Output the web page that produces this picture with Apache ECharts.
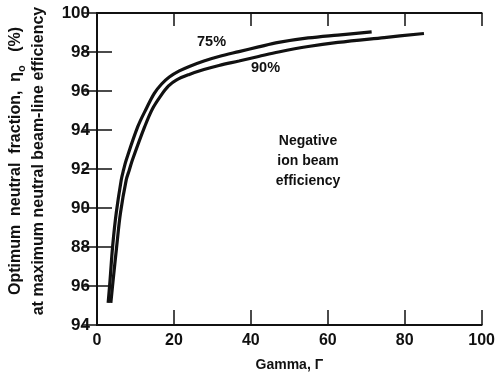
<!DOCTYPE html>
<html>
<head>
<meta charset="utf-8">
<script src="https://cdn.jsdelivr.net/npm/echarts@6/dist/echarts.min.js"></script>
<style>html,body{margin:0;padding:0;background:#fff;}#c{width:498px;height:377px;}</style>
</head>
<body>
<div id="c"></div>
<script>
// Data
const gamma75 = [2.9, 3.4, 4.05, 5.0, 6.3, 6.9, 7.6, 10.6, 12.9, 14.9, 16.8, 18.8, 21.4, 24.0, 27.8, 31.7, 36.9, 42.0, 47.2, 54.9, 62.6, 71.4];
const eta75   = [85.13, 86.31, 88.0, 89.74, 91.44, 91.95, 92.46, 94.17, 95.13, 95.88, 96.36, 96.72, 97.03, 97.26, 97.54, 97.77, 98.02, 98.26, 98.49, 98.72, 98.87, 99.03];
const gamma90 = [3.6, 4.2, 5.1, 6.1, 7.6, 8.4, 9.2, 12.4, 14.4, 16.7, 18.6, 20.6, 24.0, 27.8, 31.7, 36.9, 42.0, 47.2, 54.9, 62.6, 74.7, 85.0];
const eta90   = [85.13, 86.31, 88.0, 89.74, 91.44, 91.95, 92.46, 94.17, 95.08, 95.79, 96.26, 96.56, 96.85, 97.10, 97.31, 97.54, 97.77, 98.0, 98.28, 98.49, 98.74, 98.95];
const seriesNames = ['75%', '90%'];
const xTicks = [0, 20, 40, 60, 80, 100];
const yTickValues = [84, 86, 88, 90, 92, 94, 96, 98, 100];
const yTickLabels = ['94', '96', '88', '90', '92', '94', '96', '98', '100'];

const FONT = "'Liberation Sans', Arial, sans-serif";
const INK = '#111';

const chart = echarts.init(document.getElementById('c'), null, {renderer: 'canvas'});
const pairs = (xs, ys) => xs.map((x, i) => [x, ys[i]]);

const axisBase = {
  type: 'value',
  axisLine: {show: true, lineStyle: {color: INK, width: 2}},
  axisTick: {show: true, inside: true, length: 15, lineStyle: {color: INK, width: 1.5}},
  splitLine: {show: false}
};

chart.setOption({
  animation: false,
  backgroundColor: '#fff',
  grid: {left: 97, right: 13, top: 13, bottom: 52, containLabel: false},
  xAxis: [
    Object.assign({}, axisBase, {
      min: 0, max: 100, interval: 20, position: 'bottom',
      axisLabel: {show: true, margin: 8, color: INK, fontFamily: FONT, fontWeight: 'bold', fontSize: 16,
        formatter: v => xTicks.includes(v) ? String(v) : ''},
      name: 'Gamma, Γ', nameLocation: 'middle', nameGap: 33,
      nameTextStyle: {color: INK, fontFamily: FONT, fontWeight: 'bold', fontSize: 14}
    }),
    Object.assign({}, axisBase, {
      min: 0, max: 100, interval: 20, position: 'top',
      axisTick: {show: true, inside: true, length: 13, lineStyle: {color: INK, width: 1.5}},
      axisLabel: {show: false}
    })
  ],
  yAxis: [
    Object.assign({}, axisBase, {
      min: 84, max: 100, interval: 2, position: 'left',
      axisLabel: {show: true, margin: 7, color: INK, fontFamily: FONT, fontWeight: 'bold', fontSize: 17,
        formatter: v => { const i = yTickValues.indexOf(v); return i >= 0 ? yTickLabels[i] : ''; }}
    }),
    Object.assign({}, axisBase, {
      min: 84, max: 100, interval: 2, position: 'right',
      axisLabel: {show: false}
    })
  ],
  series: [
    {
      name: seriesNames[0], type: 'line', data: pairs(gamma75, eta75),
      smooth: 0.35, showSymbol: false, symbol: 'none',
      lineStyle: {color: INK, width: 3.2}
    },
    {
      name: seriesNames[1], type: 'line', data: pairs(gamma90, eta90),
      smooth: 0.35, showSymbol: false, symbol: 'none',
      lineStyle: {color: INK, width: 3.2}
    }
  ],
  graphic: [
    {type: 'text', left: 197, top: 34, style: {text: seriesNames[0], fill: INK, font: 'bold 14.5px ' + FONT}},
    {type: 'text', left: 251, top: 60, style: {text: seriesNames[1], fill: INK, font: 'bold 14.5px ' + FONT}},
    {type: 'text', x: 308, y: 131, style: {text: 'Negative\nion beam\nefficiency', fill: INK,
      font: 'bold 14px ' + FONT, align: 'center', verticalAlign: 'top', lineHeight: 20}},
    {type: 'text', x: 27, y: 161, rotation: Math.PI / 2,
      style: {
        text: 'Optimum  neutral  fraction,  η{sub|o}   (%)\nat maximum neutral beam-line efficiency',
        fill: INK, font: 'bold 16px ' + FONT, align: 'center', verticalAlign: 'middle', lineHeight: 23,
        rich: {sub: {font: 'bold 11px ' + FONT, fill: INK, verticalAlign: 'bottom', padding: [7, 0, 0, 0]}}
      }}
  ]
});
</script>
</body>
</html>
